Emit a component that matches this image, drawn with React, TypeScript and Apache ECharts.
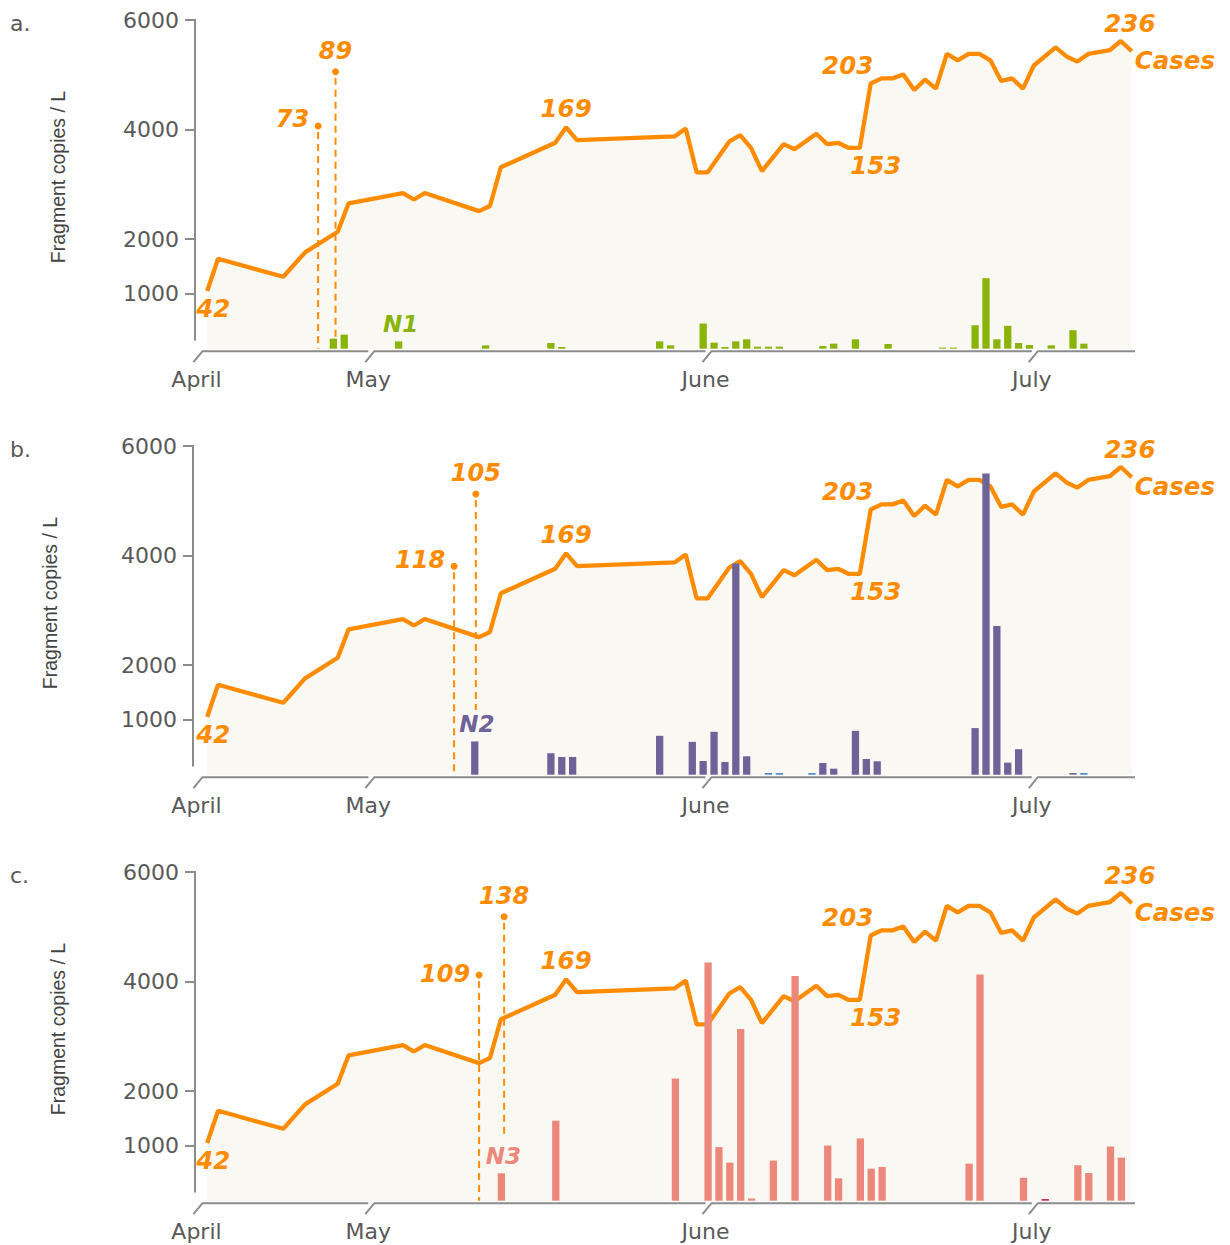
import React, { useEffect, useRef } from "react";
import * as echarts from "echarts";

// Days are counted from 1 April (1 April = 0, 1 May = 30, 1 June = 61, 1 July = 91)
const monthNames = ["April", "May", "June", "July"];
const monthDays = [14.2, 30, 61, 91];
const dayMin = 14.8;
const dayMax = 100.3;

const yTicks = [1000, 2000, 4000, 6000];

// Confirmed cases (orange line)
const caseDays = [15, 16, 22, 24, 27, 28, 33, 34, 35, 40, 41, 42, 47, 48, 49, 58, 59, 60, 61, 63, 64, 65, 66, 68, 69, 71, 72, 73, 74, 75, 76, 77, 78, 79, 80, 81, 82, 83, 84, 85, 86, 87, 88, 89, 90, 91, 93, 94, 95, 96, 98, 99, 100];
const caseCounts = [42, 67, 53, 72, 88, 110, 118, 113, 118, 104, 108, 138, 157, 169, 159, 162, 168, 134, 134, 158, 163, 153, 135, 156, 152, 164, 156, 157, 153, 153, 203, 207, 207, 210, 198, 206, 199, 226, 221, 226, 226, 221, 205, 207, 199, 217, 231, 224, 220, 226, 229, 236, 228];
const labelledCaseDays = [15, 48, 76, 75, 99];
const caseSeriesName = "Cases";

// N1 (panel a)
const n1Days = [26, 27, 32, 40, 46, 47, 56, 57, 60, 61, 62, 63, 64, 65, 66, 67, 71, 72, 74, 77, 82, 83, 85, 86, 87, 88, 89, 90, 92, 94, 95];
const n1Values = [184, 257, 134, 61, 104, 31, 134, 61, 460, 110, 31, 134, 171, 37, 37, 37, 49, 92, 171, 86, 20, 20, 428, 1287, 171, 417, 104, 67, 61, 337, 92];
const n1TraceDays: number[] = [];
const n1TraceValues: number[] = [];
const n1AnnDays = [25.2, 26.8];
const n1AnnTops = [4064, 5055];
const n1AnnBottoms = [0, 195];
const n1AnnLabels = [73, 89];
const n1LabelDay = 32;

// N2 (panel b)
const n2Days = [39, 46, 47, 48, 56, 59, 60, 61, 62, 63, 64, 71, 72, 74, 75, 76, 85, 86, 87, 88, 89, 94];
const n2Values = [607, 392, 324, 324, 710, 600, 250, 783, 232, 3853, 336, 213, 110, 801, 287, 245, 851, 5500, 2713, 220, 465, 30];
const n2TraceDays = [66, 67, 70, 95];
const n2TraceValues = [30, 30, 30, 30];
const n2AnnDays = [37.7, 39.7];
const n2AnnTops = [3805, 5123];
const n2AnnBottoms = [0, 1181];
const n2AnnLabels = [118, 105];
const n2LabelDay = 39;

// N3 (panel c)
const n3Days = [42, 47, 58, 61, 62, 63, 64, 65, 67, 69, 72, 73, 75, 76, 77, 85, 86, 90, 95, 96, 98, 99];
const n3Values = [500, 1461, 2232, 4346, 978, 695, 3134, 40, 732, 4103, 1007, 408, 1136, 585, 616, 677, 4127, 419, 647, 505, 989, 787];
const n3TraceDays = [92];
const n3TraceValues = [30];
const n3AnnDays = [40, 42.3];
const n3AnnTops = [4120, 5183];
const n3AnnBottoms = [0, 1139];
const n3AnnLabels = [109, 138];
const n3LabelDay = 42;

const ORANGE = "#FF8C00";
const AXIS = "#8C8C8C";
const TEXT = "#595959";
const BG = "#FAF8F3";
const FONT = "DejaVu Sans";

const panels = [
  { letter: "a.", gene: "N1", days: n1Days, values: n1Values, traceDays: n1TraceDays, traceValues: n1TraceValues, color: "#8AB40A", traceColor: "#8AB40A", annDays: n1AnnDays, annTops: n1AnnTops, annBottoms: n1AnnBottoms, annLabels: n1AnnLabels, labelDay: n1LabelDay },
  { letter: "b.", gene: "N2", days: n2Days, values: n2Values, traceDays: n2TraceDays, traceValues: n2TraceValues, color: "#6E6399", traceColor: "#4A86C8", annDays: n2AnnDays, annTops: n2AnnTops, annBottoms: n2AnnBottoms, annLabels: n2AnnLabels, labelDay: n2LabelDay },
  { letter: "c.", gene: "N3", days: n3Days, values: n3Values, traceDays: n3TraceDays, traceValues: n3TraceValues, color: "#EC887B", traceColor: "#C41E6A", annDays: n3AnnDays, annTops: n3AnnTops, annBottoms: n3AnnBottoms, annLabels: n3AnnLabels, labelDay: n3LabelDay },
];

// layout (styling only)
const panelTop = [20, 446, 872];
const gridHeight = 328.7;
const barOffset = [0.6, 0.6, 0.05];
const annLabelDy = [-7, -6, -1];
const yTitleX = [58, 50, 58];
const yAxisOffset = [10, 12, 10];
const caseLabelLayout = [
  { dx: 6, dy: 18, align: "center" },
  { dx: 0, dy: -19, align: "center" },
  { dx: -23, dy: -18, align: "center" },
  { dx: 16, dy: 18, align: "center" },
  { dx: 9, dy: -18, align: "center" },
];

function buildOption() {
  const grid: any[] = [];
  const xAxis: any[] = [];
  const yAxis: any[] = [];
  const series: any[] = [];
  const graphic: any[] = [];

  const labelledCounts = labelledCaseDays.map((d) => caseCounts[caseDays.indexOf(d)]);
  const caseLabelData = labelledCaseDays.map((d, k) => [d, labelledCounts[k]]);
  const lastIdx = caseDays.length - 1;
  caseLabelData.push([caseDays[lastIdx], caseCounts[lastIdx]]);
  const caseLabelTexts = labelledCounts.map((c) => String(c)).concat([caseSeriesName]);

  panels.forEach((p, i) => {
    const top = panelTop[i];
    const off = barOffset[i];
    const yOff = yAxisOffset[i];
    grid.push({ left: 205, right: 95, top, height: gridHeight, show: false });
    xAxis.push({ type: "value", gridIndex: i, min: dayMin, max: dayMax, show: false });
    yAxis.push({
      type: "value", gridIndex: i, min: 0, max: 6000, position: "left", offset: yOff,
      axisLine: { show: false },
      axisTick: { show: true, customValues: yTicks, length: 10, lineStyle: { color: AXIS, width: 2 } },
      axisLabel: { show: true, customValues: yTicks, margin: 16, fontSize: 22, color: TEXT, fontFamily: FONT, padding: [6, 0, 0, 0], formatter: (v: number) => String(v) },
      splitLine: { show: false },
    });
    yAxis.push({ type: "value", gridIndex: i, min: -2.8, max: 252.3, show: false });
    const fy = i * 2;
    const cy = i * 2 + 1;

    // cases line with area
    series.push({
      type: "line", name: caseSeriesName, xAxisIndex: i, yAxisIndex: cy, z: 2, silent: true,
      showSymbol: false, data: caseDays.map((d, k) => [d, caseCounts[k]]),
      lineStyle: { color: ORANGE, width: 4.3 }, itemStyle: { color: ORANGE },
      areaStyle: { color: BG, opacity: 1, origin: "start" },
    });

    const barRender = (color: string) => (params: any, api: any) => {
      const d = api.value(0);
      const v = api.value(1);
      const a = api.coord([d + off - 0.335, v]);
      const b = api.coord([d + off + 0.335, 0]);
      return { type: "rect", shape: { x: a[0], y: a[1], width: b[0] - a[0], height: b[1] - a[1] }, style: { fill: color } };
    };
    series.push({
      type: "custom", name: p.gene, xAxisIndex: i, yAxisIndex: fy, z: 3, clip: false, silent: true,
      data: p.days.map((d, k) => [d, p.values[k]]), renderItem: barRender(p.color),
    });
    if (p.traceDays.length) {
      series.push({
        type: "custom", name: p.gene + " trace", xAxisIndex: i, yAxisIndex: fy, z: 3, clip: false, silent: true,
        data: p.traceDays.map((d, k) => [d, p.traceValues[k]]), renderItem: barRender(p.traceColor),
      });
    }

    // month axis
    series.push({
      type: "custom", name: "axis" + i, xAxisIndex: i, yAxisIndex: fy, z: 1, clip: false, silent: true,
      data: monthDays.map((d) => [d, 0]),
      renderItem: (params: any, api: any) => {
        const k = params.dataIndex;
        const c = api.coord([api.value(0), 0]);
        const y = c[1] + 2.5;
        const xEnd = k < monthDays.length - 1 ? api.coord([monthDays[k + 1], 0])[0] - 2 : api.coord([dayMax, 0])[0];
        const children: any[] = [
          { type: "polyline", shape: { points: [[c[0] - 5, y + 11], [c[0] + 4, y], [xEnd, y]] }, style: { stroke: AXIS, lineWidth: 2, fill: null } },
          { type: "text", x: c[0] - 2, y: y + 28, style: { text: monthNames[k], fill: TEXT, fontSize: 22, fontFamily: FONT, align: "center", verticalAlign: "middle" } },
        ];
        if (k === 0) {
          const t = api.coord([dayMin, 6000]);
          const b = api.coord([dayMin, 150]);
          children.push({ type: "line", shape: { x1: t[0] - yOff, y1: t[1] - 1, x2: t[0] - yOff, y2: b[1] }, style: { stroke: AXIS, lineWidth: 2 } });
        }
        return { type: "group", children };
      },
    });

    // annotations (dashed lines)
    series.push({
      type: "custom", name: "ann" + i, xAxisIndex: i, yAxisIndex: fy, z: 4, clip: false, silent: true,
      data: p.annDays.map((d, k) => [d, p.annTops[k], p.annBottoms[k]]),
      renderItem: (params: any, api: any) => {
        const k = params.dataIndex;
        const t = api.coord([api.value(0), api.value(1)]);
        const b = api.coord([api.value(0), api.value(2)]);
        const lbl = k === 0 ? { x: t[0] - 9, y: t[1] + annLabelDy[i], align: "right" } : { x: t[0], y: t[1] - 21, align: "center" };
        return {
          type: "group",
          children: [
            { type: "line", shape: { x1: t[0], y1: t[1] + 6, x2: t[0], y2: b[1] }, style: { stroke: ORANGE, lineWidth: 2, lineDash: [7, 5] } },
            { type: "circle", shape: { cx: t[0], cy: t[1], r: 3.5 }, style: { fill: ORANGE } },
            { type: "text", x: lbl.x, y: lbl.y, style: { text: String(p.annLabels[k]), fill: ORANGE, fontSize: 24, fontFamily: FONT, fontWeight: "bold", fontStyle: "italic", align: lbl.align, verticalAlign: "middle" } },
          ],
        };
      },
    });

    // gene label
    const geneValue = p.values[p.days.indexOf(p.labelDay)];
    series.push({
      type: "custom", name: "gene" + i, xAxisIndex: i, yAxisIndex: fy, z: 5, clip: false, silent: true,
      data: [[p.labelDay, geneValue]],
      renderItem: (params: any, api: any) => {
        const c = api.coord([api.value(0) + off, api.value(1)]);
        return { type: "text", x: c[0] + 2, y: c[1] - 17, style: { text: p.gene, fill: p.color, fontSize: 23, fontFamily: FONT, fontWeight: "bold", fontStyle: "italic", align: "center", verticalAlign: "middle" } };
      },
    });

    // case labels
    series.push({
      type: "custom", name: "caseLabels" + i, xAxisIndex: i, yAxisIndex: cy, z: 5, clip: false, silent: true,
      data: caseLabelData,
      renderItem: (params: any, api: any) => {
        const k = params.dataIndex;
        const c = api.coord([api.value(0), api.value(1)]);
        const lay = k < caseLabelLayout.length ? caseLabelLayout[k] : { dx: 3, dy: 9, align: "left" };
        return { type: "text", x: c[0] + lay.dx, y: c[1] + lay.dy, style: { text: caseLabelTexts[k], fill: ORANGE, fontSize: 24.5, fontFamily: FONT, fontWeight: "bold", fontStyle: "italic", align: lay.align, verticalAlign: "middle" } };
      },
    });

    graphic.push({ type: "text", x: 10, y: top + 3, style: { text: p.letter, fill: TEXT, fontSize: 22, fontFamily: FONT, align: "left", verticalAlign: "middle" } });
    graphic.push({ type: "text", x: yTitleX[i], y: top + 157, rotation: Math.PI / 2, style: { text: "Fragment copies / L", fill: "#444444", fontSize: 19.5, fontFamily: "Liberation Sans", align: "center", verticalAlign: "middle" } });
  });

  return { animation: false, backgroundColor: "#FFFFFF", grid, xAxis, yAxis, series, graphic };
}

export default function App() {
  const ref = useRef<HTMLDivElement>(null);
  useEffect(() => {
    document.body.style.margin = "0";
    if (!ref.current) return;
    const chart = echarts.init(ref.current, undefined, { renderer: "svg" });
    chart.setOption(buildOption() as any);
    return () => chart.dispose();
  }, []);
  return <div ref={ref} style={{ width: 1230, height: 1245 }} />;
}
